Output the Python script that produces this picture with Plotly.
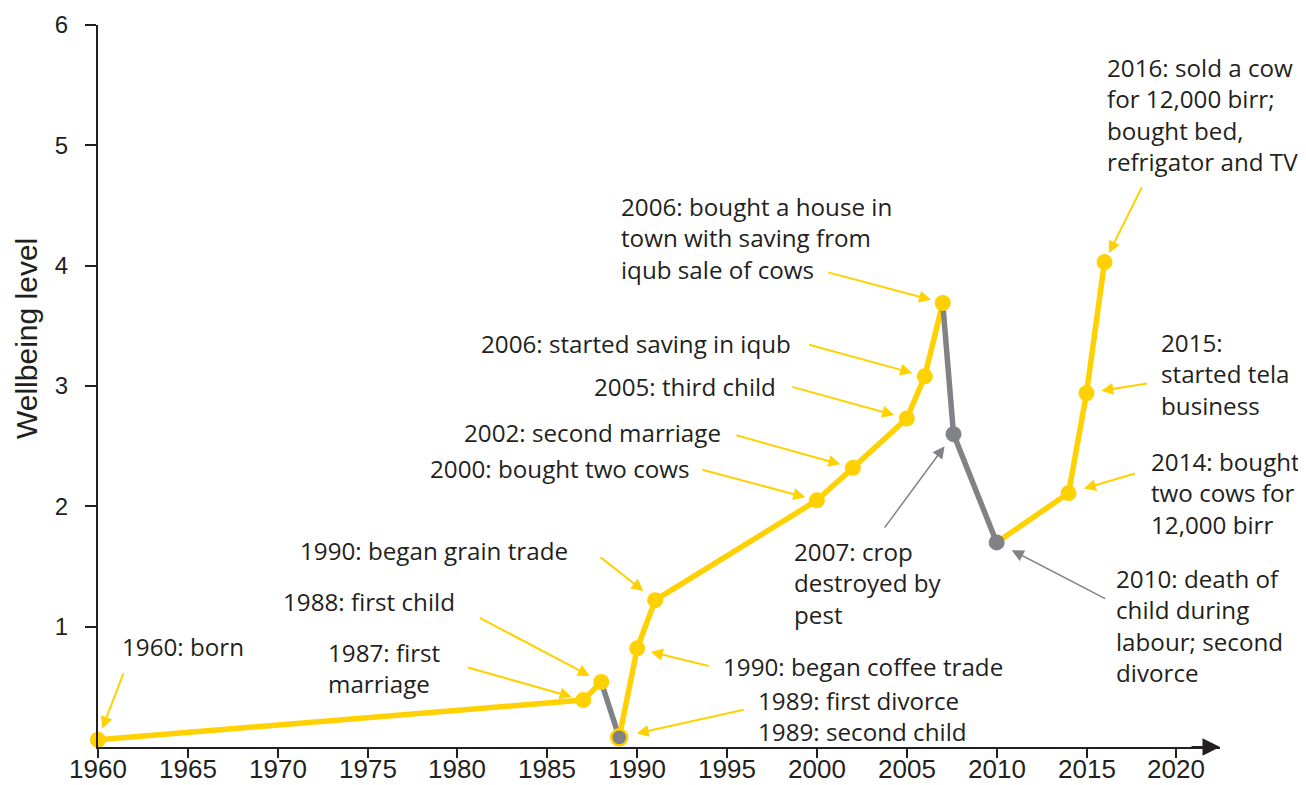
import plotly.graph_objects as go

# ---------------- data ----------------
years = [1960, 1987, 1988, 1989, 1990, 1991, 2000, 2002, 2005, 2006, 2007, 2007.6, 2010, 2014, 2015, 2016]
levels = [0.06, 0.39, 0.54, 0.08, 0.82, 1.22, 2.05, 2.32, 2.73, 3.08, 3.69, 2.60, 1.70, 2.11, 2.94, 4.03]

x_tick_vals = [1960, 1965, 1970, 1975, 1980, 1985, 1990, 1995, 2000, 2005, 2010, 2015, 2020]
x_tick_text = ["1960", "1965", "1970", "1975", "1980", "1985", "1990", "1995", "2000", "2005", "2010", "2015", "2020"]
y_tick_vals = [1, 2, 3, 4, 5, 6]

event_labels = [
    "1960: born",
    "1987: first<br>marriage",
    "1988: first child",
    "1990: began grain trade",
    "1990: began coffee trade",
    "1989: first divorce<br>1989: second child",
    "2000: bought two cows",
    "2002: second marriage",
    "2005: third child",
    "2006: started saving in iqub",
    "2006: bought a house in<br>town with saving from<br>iqub sale of cows",
    "2007: crop<br>destroyed by<br>pest",
    "2010: death of<br>child during<br>labour; second<br>divorce",
    "2014: bought<br>two cows for<br>12,000 birr",
    "2015:<br>started tela<br>business",
    "2016: sold a cow<br>for 12,000 birr;<br>bought bed,<br>refrigator and TV",
]
# index of the point each event label refers to
event_point = [0, 1, 2, 5, 4, 3, 6, 7, 8, 9, 10, 11, 12, 13, 14, 15]

# ---------------- layout / style ----------------
YELLOW = "#FFD100"
GRAY = "#808285"
DARK = "#231F20"
ANN_FONT = "Open Sans"
AX_FONT = "Liberation Sans"

OFF = 8                              # page body margin
W, H = 1306 - OFF, 785 - OFF
# plot area in screen pixels
PL, PR, PT, PB = 98, 1220, 25, 747
PX_PER_YEAR = 17.973
X_END = 1960 + (PR - PL) / PX_PER_YEAR

# text block placement in screen px: (left, vertical centre)
label_pos = [
    (121, 646.5), (326.7, 667.5), (281.7, 601.7), (299.3, 550), (721.7, 666.7),
    (756.7, 716), (429.3, 468.3), (463.3, 432), (593.3, 386), (480, 343),
    (620, 238), (792.7, 583.4), (1115, 625.5), (1150, 493), (1160, 373.7),
    (1106, 114.2),
]
# arrow tail offsets (px, relative to the point) and standoff
arrow_geom = [
    (26, -68, 12), (-117, -33, 12), (-123, -65, 13), (-56, -44, 15), (73, 18, 14),
    (126, -28, 18), (-116, -31, 12), (-118, -33, 13), (-116, -32, 13), (-117, -32, 13),
    (-116, -31, 12), (-70, 95, 15), (110, 57, 17), (68, -20, 16), (62, -10, 15),
    (38, -76, 10),
]
X_LABEL_BOTTOM = 785     # screen y of the bottom of the x tick label row


def paper_x(px):
    return (px - PL) / (PR - PL)


def paper_y(py):
    return (PB - py) / (PB - PT)


fig = go.Figure()

# line segments: declines in grey, rises in yellow
for i in range(len(years) - 1):
    col = GRAY if levels[i + 1] < levels[i] else YELLOW
    fig.add_trace(go.Scatter(
        x=years[i:i + 2], y=levels[i:i + 2], mode="lines",
        line=dict(color=col, width=5.5), cliponaxis=False,
        hoverinfo="skip", showlegend=False,
    ))

marker_fill = [GRAY if i > 0 and levels[i] < levels[i - 1] else YELLOW for i in range(len(years))]
marker_edge = [YELLOW if years[i] == 1989 else marker_fill[i] for i in range(len(years))]
marker_edge_w = [2.5 if years[i] == 1989 else 0 for i in range(len(years))]

fig.add_trace(go.Scatter(
    x=years, y=levels, mode="markers",
    marker=dict(size=16, color=marker_fill, line=dict(color=marker_edge, width=marker_edge_w)),
    cliponaxis=False, showlegend=False,
))

annotations = []
for i, (txt, idx) in enumerate(zip(event_labels, event_point)):
    lx, ly = label_pos[i]
    annotations.append(dict(
        text=txt, xref="paper", yref="paper", x=paper_x(lx), y=paper_y(ly),
        xanchor="left", yanchor="middle", align="left", showarrow=False,
        font=dict(family=ANN_FONT, size=24.2, color=DARK), borderpad=0,
    ))
    dx, dy, so = arrow_geom[i]
    is_grey = marker_fill[idx] == GRAY and years[idx] != 1989
    annotations.append(dict(
        text="", x=years[idx], y=levels[idx], xref="x", yref="y",
        ax=dx, ay=dy, showarrow=True, arrowhead=2,
        arrowwidth=1.5 if is_grey else 2,
        arrowsize=1.6 if is_grey else 1.2,
        arrowcolor=GRAY if is_grey else YELLOW, standoff=so,
    ))

# x tick labels (placed explicitly so they sit tight under the ticks)
for v, t in zip(x_tick_vals, x_tick_text):
    annotations.append(dict(
        text=t, x=v, xref="x", yref="paper", y=paper_y(X_LABEL_BOTTOM),
        xanchor="center", yanchor="bottom", showarrow=False, borderpad=0,
        font=dict(family=AX_FONT, size=26, color=DARK),
    ))

# x-axis arrow head
annotations.append(dict(
    text="", x=X_END, y=0, xref="x", yref="y", ax=-30, ay=0,
    showarrow=True, arrowhead=2, arrowwidth=2, arrowsize=1.75, arrowcolor=DARK, standoff=0,
))
# y-axis title
annotations.append(dict(
    text="Wellbeing level", xref="paper", yref="paper", x=paper_x(27), y=paper_y(339),
    xanchor="center", yanchor="middle", textangle=-90, showarrow=False,
    font=dict(family=AX_FONT, size=30, color=DARK),
))

fig.update_layout(
    width=W, height=H,
    margin=dict(l=PL - OFF, r=(W + OFF) - PR, t=PT - OFF, b=(H + OFF) - PB, autoexpand=False),
    paper_bgcolor="white", plot_bgcolor="white",
    annotations=annotations,
    xaxis=dict(
        range=[1960, X_END], tickvals=x_tick_vals, ticks="outside", ticklen=9, tickwidth=2,
        tickcolor=DARK, showline=True, linecolor=DARK, linewidth=2, showgrid=False,
        zeroline=False, showticklabels=False, automargin=False,
    ),
    yaxis=dict(
        range=[0, 6], tickvals=y_tick_vals, ticks="outside", ticklen=11, tickwidth=2,
        tickcolor=DARK, showline=True, linecolor=DARK, linewidth=2, showgrid=False,
        zeroline=False, tickfont=dict(family=AX_FONT, size=24, color=DARK),
        ticklabelstandoff=12, automargin=False,
    ),
)

fig.write_html("out.html")
